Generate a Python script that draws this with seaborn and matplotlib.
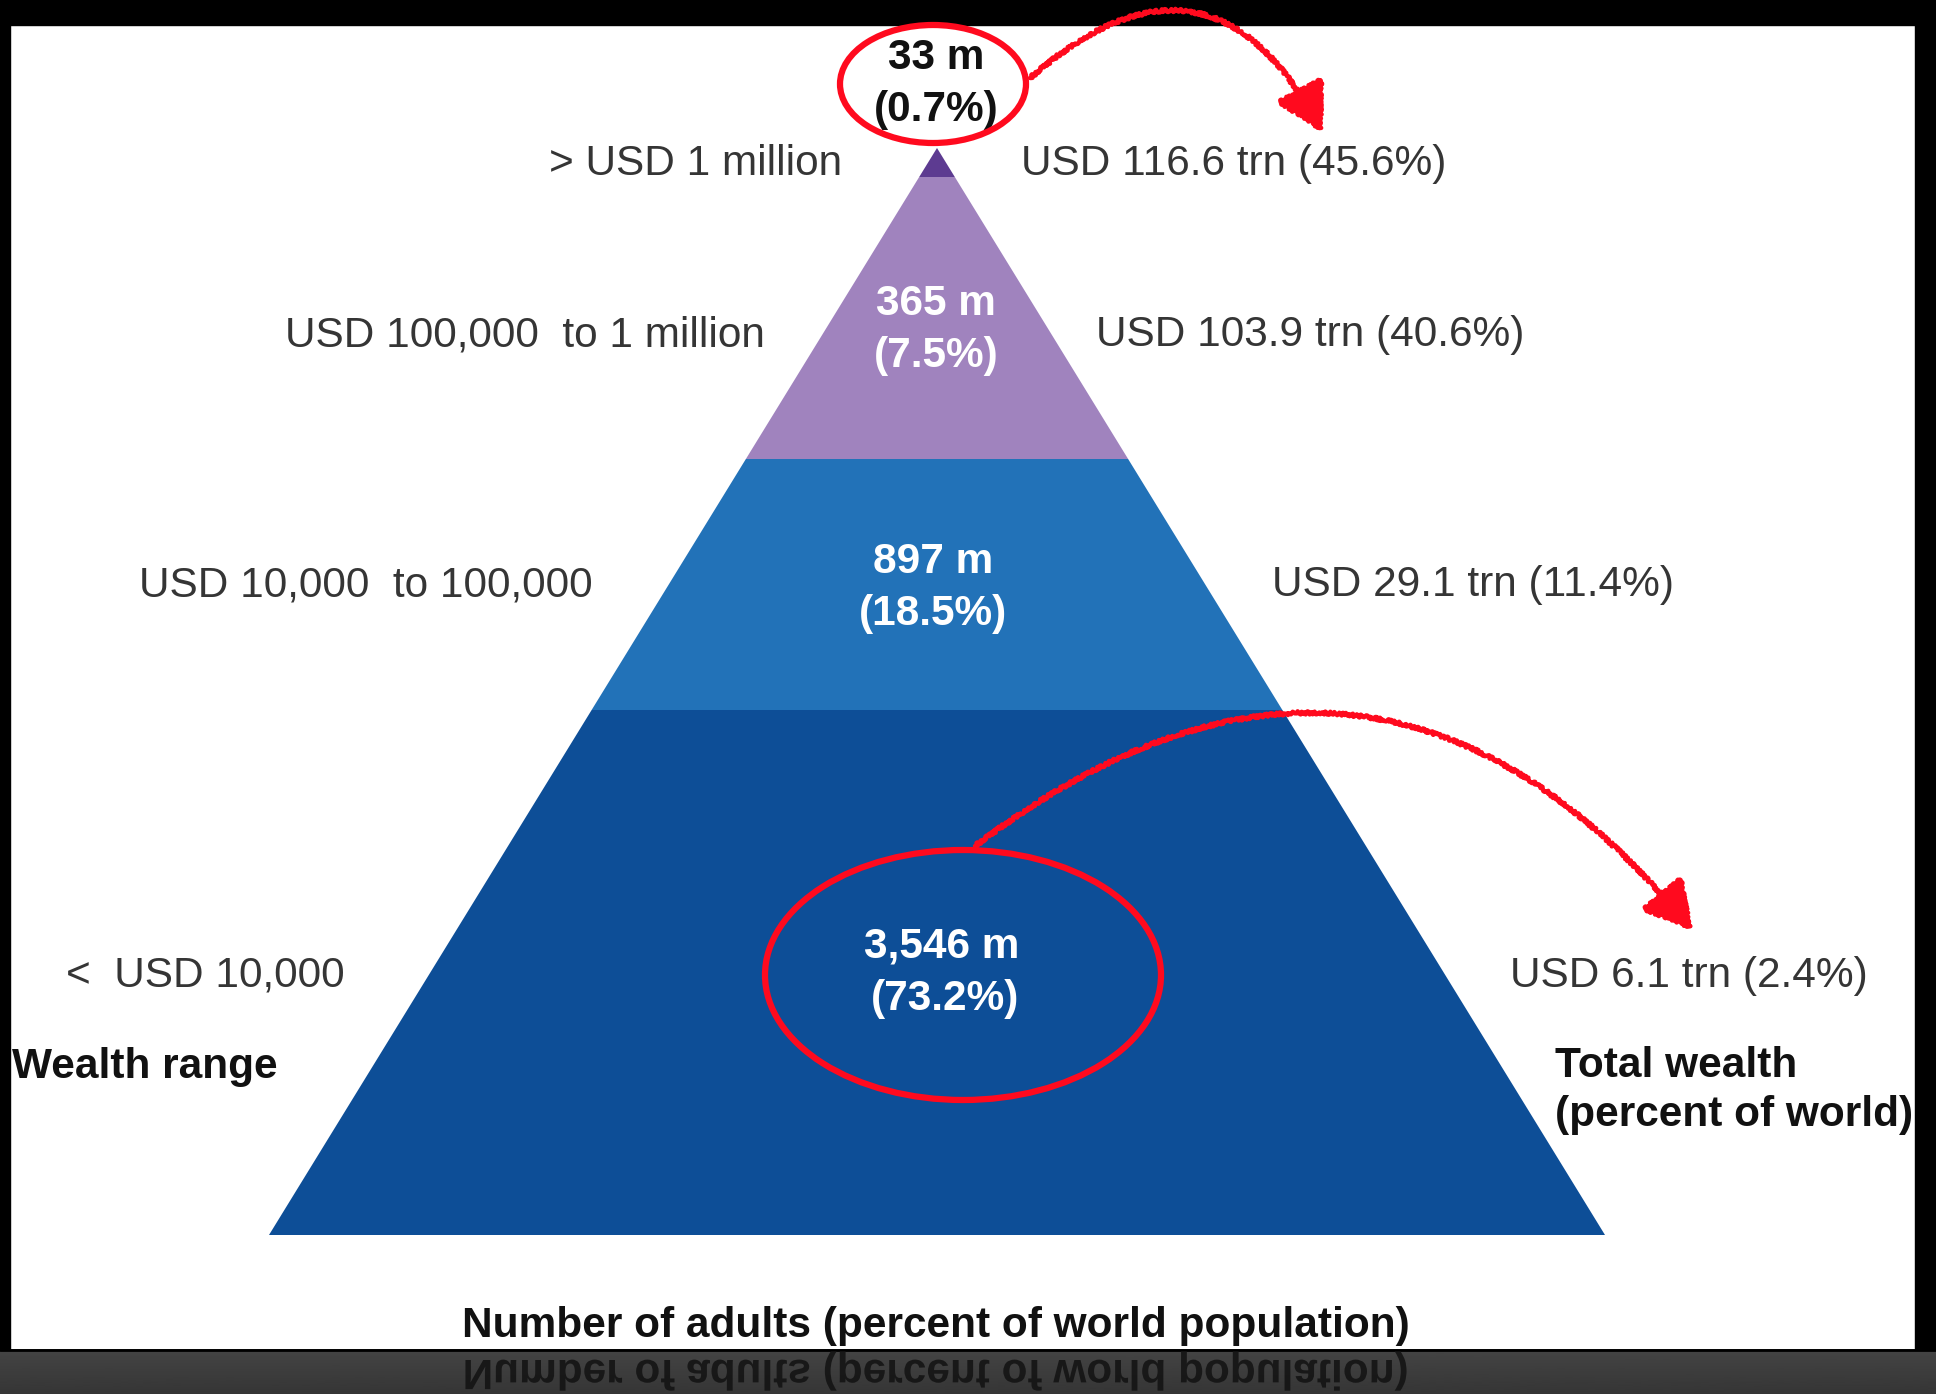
import numpy as np
import pandas as pd
import matplotlib
matplotlib.use("Agg")
import matplotlib.pyplot as plt
import seaborn as sns
from matplotlib.patches import Polygon, Ellipse, Rectangle, PathPatch, FancyArrowPatch
from matplotlib.textpath import TextPath
from matplotlib.font_manager import FontProperties
from matplotlib.transforms import Affine2D

# ---------------- data ----------------
wealth_ranges = ["> USD 1 million", "USD 100,000  to 1 million",
                 "USD 10,000  to 100,000", "<  USD 10,000"]
adults_m = [33, 365, 897, 3546]
adults_pct = [0.7, 7.5, 18.5, 73.2]
wealth_trn = [116.6, 103.9, 29.1, 6.1]
wealth_pct = [45.6, 40.6, 11.4, 2.4]
left_title = "Wealth range"
right_title = "Total wealth\n(percent of world)"
bottom_title = "Number of adults (percent of world population)"

df = pd.DataFrame({"range": wealth_ranges, "adults": adults_m, "adults_pct": adults_pct,
                   "wealth": wealth_trn, "wealth_pct": wealth_pct})

# ---------------- layout (pixels) ----------------
W, H = 1936, 1394
apex = (937, 148)
base_y, base_left, base_right = 1235, 269, 1605
layer_edges = [148, 177, 459, 710, 1235]
layer_colors = ["#5d3b91", "#a083be", "#2272b8", "#0d4e97"]
center_x = [936, 936, 933, 942]
center_base = [69, 315, 573, 958]
center_colors = ["#111111", "white", "white", "white"]
left_x = [842, 765, 593, 345]
right_x = [1021, 1096, 1272, 1510]
row_base = [175, 346, 596, 987]
line_gap = 52
FS = 30.5

sns.set_theme(style="white")
plt.rcParams["font.family"] = ["Liberation Sans", "DejaVu Sans"]

fig = plt.figure(figsize=(W / 100, H / 100), dpi=100, facecolor="black")
ax = fig.add_axes([0, 0, 1, 1])
ax.set_facecolor("black")
ax.axis("off")

# white canvas
ax.add_patch(Rectangle((10, 25), 1905, 1324, color="white", zorder=0))
# bottom reflection band
grad = np.linspace(0.27, 0.21, 60).reshape(-1, 1)
ax.imshow(grad, extent=(0, W, H, 1349), origin="upper", cmap="gray",
          vmin=0, vmax=1, aspect="auto", zorder=0.5)
ax.plot([0, W], [1349.5, 1349.5], color="black", lw=2, zorder=1)

# pyramid layers
half_base = (base_right - base_left) / 2
height = base_y - apex[1]
def half_w(y):
    return half_base * (y - apex[1]) / height
for i in range(len(df)):
    y0, y1 = layer_edges[i], layer_edges[i + 1]
    pts = [(apex[0] - half_w(y0), y0), (apex[0] + half_w(y0), y0),
           (apex[0] + half_w(y1), y1), (apex[0] - half_w(y1), y1)]
    ax.add_patch(Polygon(pts, closed=True, color=layer_colors[i], lw=0, zorder=2))

# labels
txt_col = "#353535"
for i, r in df.iterrows():
    ax.text(left_x[i], row_base[i], r["range"], ha="right", va="baseline",
            fontsize=FS, color=txt_col, zorder=5)
    ax.text(right_x[i], row_base[i], f"USD {r['wealth']} trn ({r['wealth_pct']}%)",
            ha="left", va="baseline", fontsize=FS, color=txt_col, zorder=5)
    ax.text(center_x[i], center_base[i], f"{int(r['adults']):,} m", ha="center",
            va="baseline", fontsize=FS, fontweight="bold", color=center_colors[i], zorder=5)
    ax.text(center_x[i] + (3 if i == 3 else 0), center_base[i] + line_gap,
            f"({r['adults_pct']}%)", ha="center", va="baseline", fontsize=FS,
            fontweight="bold", color=center_colors[i], zorder=5)

ax.text(12, 1078, left_title, ha="left", va="baseline", fontsize=FS,
        fontweight="bold", color="#111111", zorder=5)
rt = right_title.split("\n")
ax.text(1555, 1077, rt[0], ha="left", va="baseline", fontsize=FS,
        fontweight="bold", color="#111111", zorder=5)
ax.text(1555, 1126, rt[1], ha="left", va="baseline", fontsize=FS,
        fontweight="bold", color="#111111", zorder=5)
ax.text(936, 1337, bottom_title, ha="center", va="baseline", fontsize=FS,
        fontweight="bold", color="#111111", zorder=5)

# mirrored reflection of the bottom title
fp = FontProperties(family="Liberation Sans", weight="bold")
tp = TextPath((0, 0), bottom_title, size=FS * 100 / 72, prop=fp)
ext = tp.get_extents()
tp = tp.transformed(Affine2D().translate(936 - (ext.x0 + ext.width / 2), 1360))
ax.add_patch(PathPatch(tp, fc="#141414", ec="none", alpha=0.9, zorder=1.5))

# black frame edges
ax.add_patch(Rectangle((0, 0), W, 25, color="black", zorder=10))
ax.add_patch(Rectangle((0, 25), 10, 1324, color="black", zorder=10))
ax.add_patch(Rectangle((1915, 25), 21, 1324, color="black", zorder=10))

# red annotations (drawn above the frame, as in the reference)
red = "#ff0a1e"
ax.add_patch(Ellipse((933, 84), 186, 118, fill=False, ec=red, lw=4.5, zorder=11))
ax.add_patch(Ellipse((963, 975), 396, 250, fill=False, ec=red, lw=4.5, zorder=11))

arrows = [((1030, 78), (1322, 132), -0.63), ((975, 846), (1692, 930), -0.48)]
for (p0, p1, rad) in arrows:
    a = FancyArrowPatch(p0, p1, connectionstyle=f"arc3,rad={rad}",
                        arrowstyle="-|>,head_length=1.0,head_width=0.55",
                        mutation_scale=30, color=red, lw=3.2, shrinkA=0, shrinkB=0,
                        zorder=12)
    a.set_sketch_params(scale=1.6, length=4, randomness=3)
    ax.add_patch(a)

ax.set_xlim(0, W)
ax.set_ylim(H, 0)
fig.savefig("out.png", dpi=100, facecolor="black")
